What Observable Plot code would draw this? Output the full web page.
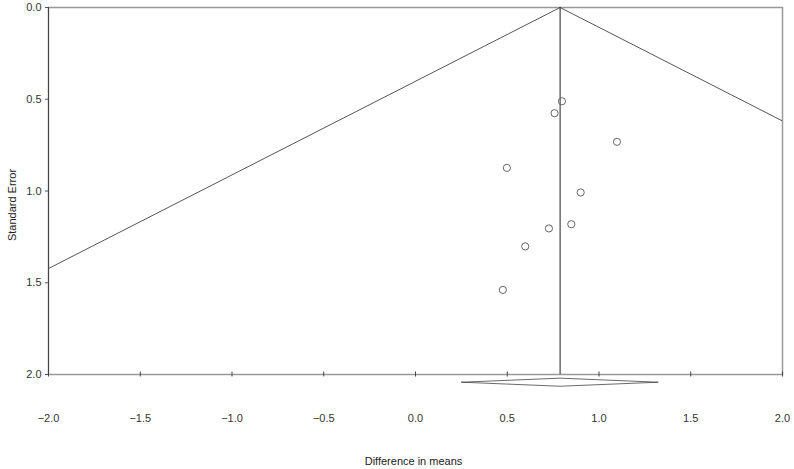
<!DOCTYPE html>
<html>
<head>
<meta charset="utf-8">
<script src="https://cdn.jsdelivr.net/npm/d3@7"></script>
<script src="https://cdn.jsdelivr.net/npm/@observablehq/plot@0.6"></script>
<style>
  html, body { margin: 0; padding: 0; background: #fff; }
  #chart svg { display: block; }
</style>
</head>
<body>
<div id="chart"></div>
<script>
// Data
const effects = [0.798, 0.758, 1.098, 0.498, 0.900, 0.849, 0.727, 0.598, 0.476];
const stdErrors = [0.511, 0.576, 0.732, 0.874, 1.008, 1.181, 1.204, 1.302, 1.539];
const pooled = 0.788;
const ciLow = 0.251;
const ciHigh = 1.323;
const zCrit = 1.96;
const diamondSE = 2.042;
const diamondHalf = 0.022;
const xTicks = [-2, -1.5, -1, -0.5, 0, 0.5, 1, 1.5, 2];
const yTicks = [0, 0.5, 1, 1.5, 2];
const xDomain = [-2, 2];
const yDomain = [0, 2];
const xTitle = "Difference in means";
const yTitle = "Standard Error";

const points = effects.map((e, i) => ({x: e, y: stdErrors[i]}));
const funnel = [
  [pooled - zCrit * yDomain[1], yDomain[1]],
  [pooled, yDomain[0]],
  [pooled + zCrit * yDomain[1], yDomain[1]]
];
const diamond = [
  [ciLow, diamondSE],
  [pooled, diamondSE - diamondHalf],
  [ciHigh, diamondSE],
  [pooled, diamondSE + diamondHalf],
  [ciLow, diamondSE]
];
const fmt = d3.format(".1f");

const chart = Plot.plot({
  width: 794,
  height: 469,
  marginLeft: 48,
  marginRight: 12,
  marginTop: 7,
  marginBottom: 95,
  style: {fontFamily: "'Liberation Sans', Arial, sans-serif", fontSize: "11px", color: "#333", background: "#fff"},
  x: {domain: xDomain},
  y: {domain: yDomain, reverse: true},
  marks: [
    Plot.frame({stroke: "#999", strokeWidth: 1.5}),
    Plot.line(funnel, {stroke: "#555", strokeWidth: 1, clip: true}),
    Plot.ruleX([pooled], {y1: yDomain[0], y2: yDomain[1], stroke: "#222", strokeWidth: 1}),
    Plot.ruleX([xDomain[0]], {stroke: "#444", strokeWidth: 1}),
    Plot.axisY({ticks: yTicks, tickFormat: fmt, tickSize: 3, tickPadding: 4, label: null, stroke: "#555"}),
    Plot.axisX({ticks: xTicks, tickFormat: () => "", tickSize: 5, dy: -2.5, label: null, stroke: "#444"}),
    Plot.axisX({ticks: xTicks, tickFormat: fmt, tickSize: 0, tickPadding: 40, label: null}),
    Plot.line(diamond, {stroke: "#444", strokeWidth: 0.8, clip: false}),
    Plot.dot(points, {x: "x", y: "y", r: 3.6, stroke: "#666", strokeWidth: 1, fill: "none"}),
    Plot.text([yTitle], {frameAnchor: "left", textAnchor: "middle", rotate: -90, dx: -36, dy: 14, fill: "#222"}),
    Plot.text([xTitle], {frameAnchor: "bottom", dy: 90, dx: -2, fill: "#222"})
  ]
});
document.getElementById("chart").appendChild(chart);
</script>
</body>
</html>
